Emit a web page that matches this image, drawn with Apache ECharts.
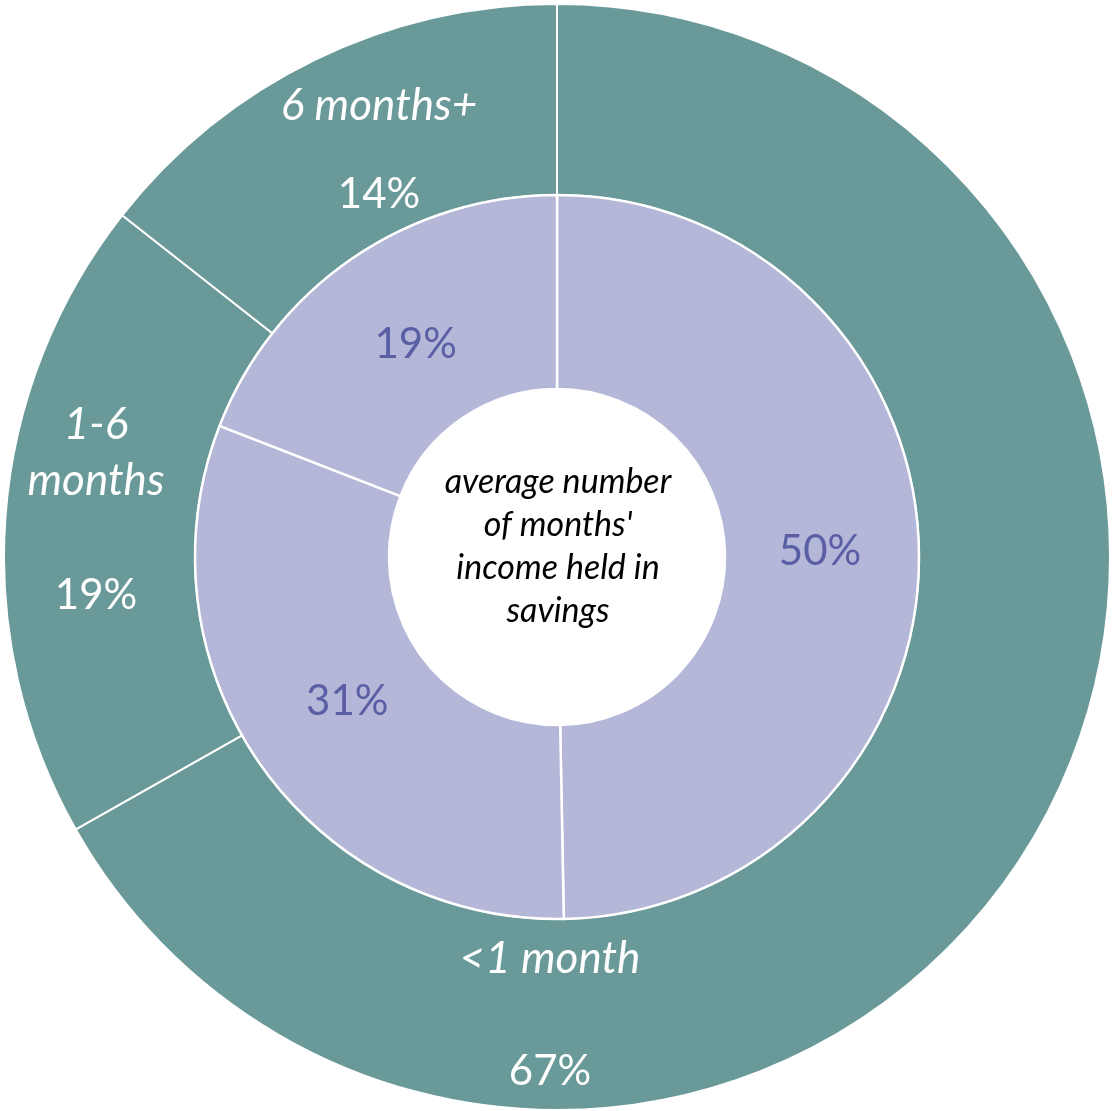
<!DOCTYPE html>
<html>
<head>
<meta charset="utf-8">
<script src="https://cdn.jsdelivr.net/npm/echarts@6/dist/echarts.min.js"></script>
<style>html,body{margin:0;padding:0;background:#fff;}#c{width:1115px;height:1111px;}</style>
</head>
<body>
<div id="c"></div>
<script>
// Outer ring: months of income held in savings (share of respondents, %)
const outerCategories = ['<1 month', '1-6 months', '6 months+'];
const outerValues = [66.8, 18.8, 14.4];
// Inner ring
const innerCategories = ['<1 month', '1-6 months', '6 months+'];
const innerValues = [49.7, 31.2, 19.1];
const centerText = "average number\nof months'\nincome held in\nsavings";

const FONT = 'Lato, "Open Sans", sans-serif';
const TEAL = '#699998';
const LAV = '#B4B7D8';
const PURPLE = '#5A5EA5';

// label layout (centres of outer label blocks) and gaps between name and value
const outerLabelPos = [[550, 1015], [96, 510], [379, 150]];
const outerGaps = [57, 58, 33];
const wrapOuter = [false, true, false];
const innerLabelShift = [[-5, -3], [10, -9], [10, 9]];

const chart = echarts.init(document.getElementById('c'), null, {renderer: 'canvas'});

const outerData = outerCategories.map((n, i) => ({
  name: n,
  value: outerValues[i],
  label: {
    formatter: () => '{n|' + (wrapOuter[i] ? n.replace(' ', '\n') : n) + '}\n{g' + i + '| }\n{p|' + Math.round(outerValues[i]) + '%}'
  }
}));
const innerData = innerCategories.map((n, i) => ({ name: n, value: innerValues[i] }));

const rich = {
  n: { fontFamily: FONT, fontSize: 44, fontStyle: 'italic', color: '#fff', lineHeight: 56, align: 'center' },
  p: { fontFamily: FONT, fontSize: 42, color: '#fff', lineHeight: 56, align: 'center' }
};
outerGaps.forEach((g, i) => { rich['g' + i] = { fontSize: 1, lineHeight: g }; });

chart.setOption({
  animation: false,
  backgroundColor: '#fff',
  title: {
    text: centerText,
    left: 553,
    top: 456,
    textAlign: 'center',
    textStyle: {
      fontFamily: FONT, fontSize: 34, fontStyle: 'italic', fontWeight: 'normal',
      color: '#000', lineHeight: 43
    }
  },
  series: [
    {
      type: 'pie',
      center: [557, 557],
      radius: [362, 553],
      startAngle: 90,
      clockwise: true,
      silent: true,
      itemStyle: { color: TEAL, borderColor: '#fff', borderWidth: 2 },
      label: { show: true, position: 'inside', rich: rich, align: 'center' },
      labelLine: { show: false },
      labelLayout: (p) => ({ x: outerLabelPos[p.dataIndex][0], y: outerLabelPos[p.dataIndex][1], align: 'center', verticalAlign: 'middle' }),
      data: outerData
    },
    {
      type: 'pie',
      center: [557, 557],
      radius: [168, 362],
      startAngle: 90,
      clockwise: true,
      silent: true,
      itemStyle: { color: LAV, borderColor: '#fff', borderWidth: 2.5 },
      label: {
        show: true, position: 'inside',
        formatter: (p) => Math.round(p.value) + '%',
        fontFamily: FONT, fontSize: 42, color: PURPLE
      },
      labelLine: { show: false },
      labelLayout: (p) => ({ dx: innerLabelShift[p.dataIndex][0], dy: innerLabelShift[p.dataIndex][1] }),
      data: innerData
    }
  ]
});
</script>
</body>
</html>
